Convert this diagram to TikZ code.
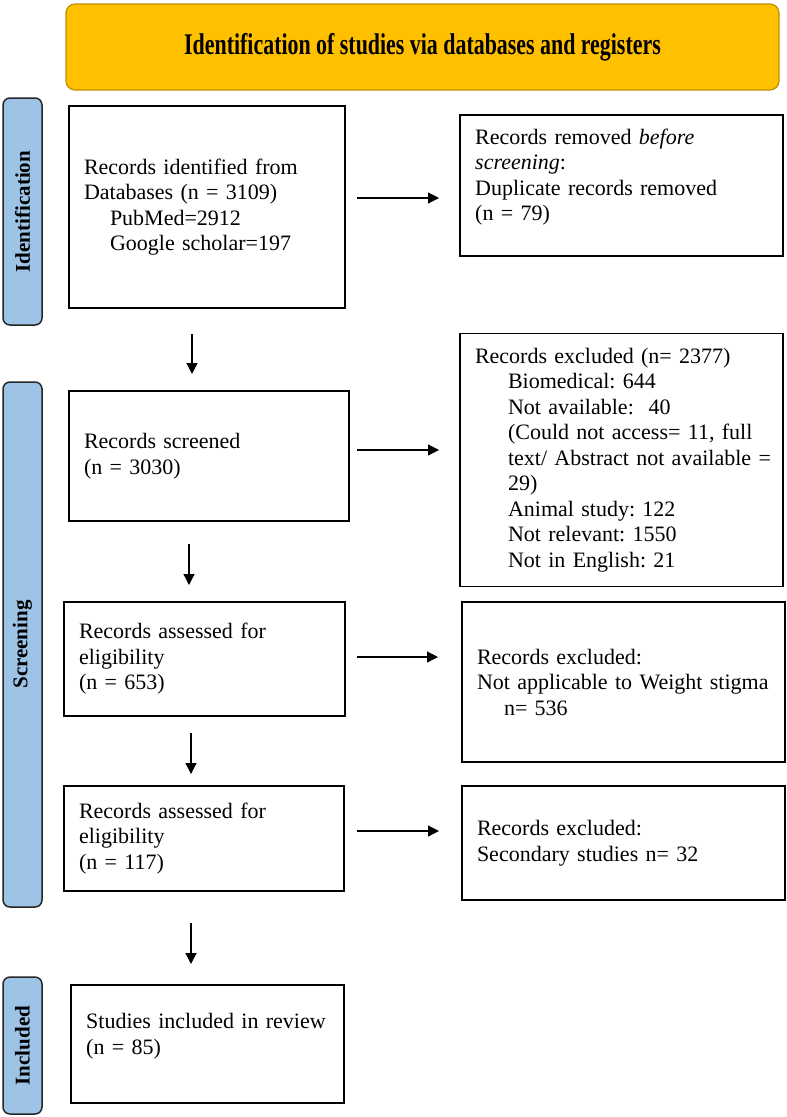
\documentclass[tikz,border=0pt]{standalone}
\usepackage{fontspec}
\setmainfont{Liberation Serif}
\usetikzlibrary{arrows.meta}
\definecolor{bannerfill}{HTML}{FFC000}
\definecolor{bannerdraw}{HTML}{BF9000}
\definecolor{barfill}{HTML}{9DC3E6}
\frenchspacing
\begin{document}
\begin{tikzpicture}[x=1pt,y=-1pt,
  box/.style={draw, line width=1.6pt, inner xsep=15pt, inner ysep=0pt, align=left, font=\fontsize{22}{25.5}\selectfont},
  boxtext/.style={inner sep=0pt, align=left, font=\fontsize{22}{25.5}\selectfont},
  sidebar/.style={draw=black!85, fill=barfill, line width=1.5pt, rounded corners=7pt, rotate=90, inner sep=0pt, font=\fontsize{21}{24}\selectfont\bfseries},
  banner/.style={draw=bannerdraw, fill=bannerfill, line width=1.2pt, rounded corners=9pt, inner sep=0pt},
  arr/.style={line width=1.2pt, -{Triangle[length=11pt,width=11pt]}}]

\useasboundingbox (0,0) rectangle (787,1117);

% banner
\node[banner, minimum width=713pt, minimum height=86pt] (title) at (422.5,47)
  {\fontsize{30}{34}\selectfont\scalebox{0.73}[1]{\bfseries Identification of studies via databases and registers}};

% side bars
\node[sidebar, minimum width=227pt, minimum height=39pt] (ident) at (22.5,211.5) {Identification};
\node[sidebar, minimum width=525pt, minimum height=39pt] (screen) at (22.5,644.5) {Screening};
\node[sidebar, minimum width=137pt, minimum height=39pt] (incl) at (22.5,1045.5) {Included};

% left column
\node[box, text width=246pt, minimum height=202pt] (b1) at (207,207)
  {Records identified from\\ Databases (n = 3109)\\ \hspace*{26pt}PubMed=2912\\ \hspace*{26pt}Google scholar=197};
\node[box, text width=250pt, minimum height=130pt] (b3) at (209,456)
  {Records screened\\ (n = 3030)};
\node[box, text width=251pt, minimum height=114pt] (b4) at (204.5,659)
  {Records assessed for\\ eligibility\\ (n = 653)};
\node[box, text width=250pt, minimum height=105pt] (b7) at (204,838.5)
  {Records assessed for\\ eligibility\\ (n = 117)};
\node[box, minimum width=273pt, minimum height=118pt] (b9) at (207.5,1044) {};
\node[boxtext, text width=250pt, anchor=north west] (t9) at (86,1013.5)
  {Studies included in review\\ (n = 85)};

% right column
\node[box, minimum width=323pt, minimum height=141pt] (b2) at (621.5,185.5) {};
\node[boxtext, text width=293pt, anchor=north west] (t2) at (475,128.5)
  {Records removed \textit{before}\\ \textit{screening}:\\ Duplicate records removed\\ (n = 79)};
\node[box, text width=293pt, minimum height=253pt] (b5) at (621.5,460)
  {Records excluded (n= 2377)\\
   \hspace*{33pt}Biomedical: 644\\
   \hspace*{33pt}Not available:\ \ 40\\
   \hspace*{33pt}\mbox{(Could not access= 11, full}\\
   \hspace*{33pt}\mbox{text/ Abstract not available =}\\
   \hspace*{33pt}29)\\
   \hspace*{33pt}Animal study: 122\\
   \hspace*{33pt}Not relevant: 1550\\
   \hspace*{33pt}Not in English: 21};
\node[box, text width=293pt, minimum height=160pt] (b6) at (623.5,682)
  {Records excluded:\\ Not applicable to Weight stigma\\ \hspace*{27pt}n= 536};
\node[box, text width=293pt, minimum height=114pt] (b8) at (623.5,843)
  {Records excluded:\\ Secondary studies n= 32};

% connector end points
\coordinate (h1s) at (357,198);  \coordinate (h1e) at (439,198);
\coordinate (h2s) at (357,450);  \coordinate (h2e) at (439,450);
\coordinate (h3s) at (357,657);  \coordinate (h3e) at (438,657);
\coordinate (h4s) at (357,831);  \coordinate (h4e) at (439,831);
\coordinate (v1s) at (192,334);  \coordinate (v1e) at (192,374);
\coordinate (v2s) at (189,544);  \coordinate (v2e) at (189,585);
\coordinate (v3s) at (191,733);  \coordinate (v3e) at (191,774);
\coordinate (v4s) at (191,923);  \coordinate (v4e) at (191,964);

\draw[arr] (h1s) -- (h1e);
\draw[arr] (h2s) -- (h2e);
\draw[arr] (h3s) -- (h3e);
\draw[arr] (h4s) -- (h4e);
\draw[arr] (v1s) -- (v1e);
\draw[arr] (v2s) -- (v2e);
\draw[arr] (v3s) -- (v3e);
\draw[arr] (v4s) -- (v4e);
\end{tikzpicture}
\end{document}
